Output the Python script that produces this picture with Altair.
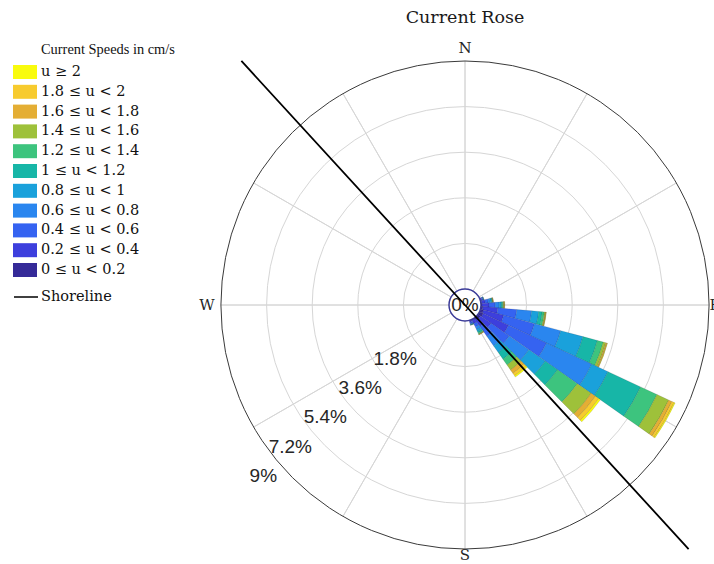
import math
import altair as alt
import pandas as pd

# Direction sectors: centre bearing in degrees clockwise from north, 10 degrees wide
directions = [70, 80, 90, 100, 110, 120, 130, 140, 150, 160]
sector_width = 10

# Share of records (%) per speed class in each direction sector
pct_0_02 = [0.02, 0.03, 0.04, 0.08, 0.12, 0.16, 0.12, 0.08, 0.03, 0.02]
pct_02_04 = [0.05, 0.14, 0.28, 0.59, 0.83, 1.10, 0.51, 0.32, 0.15, 0.06]
pct_04_06 = [0.04, 0.12, 0.24, 0.75, 1.26, 1.66, 0.87, 0.47, 0.14, 0.05]
pct_06_08 = [0.02, 0.08, 0.16, 0.59, 1.07, 1.97, 0.95, 0.47, 0.12, 0.03]
pct_08_10 = [0.01, 0.05, 0.08, 0.28, 0.91, 0.71, 0.79, 0.32, 0.08, 0.02]
pct_10_12 = [0.01, 0.03, 0.04, 0.14, 0.59, 1.42, 0.59, 0.32, 0.06, 0.01]
pct_12_14 = [0.00, 0.02, 0.04, 0.08, 0.24, 0.71, 0.95, 0.28, 0.05, 0.01]
pct_14_16 = [0.00, 0.01, 0.02, 0.04, 0.10, 0.51, 0.67, 0.24, 0.02, 0.00]
pct_16_18 = [0.00, 0.01, 0.02, 0.02, 0.04, 0.14, 0.20, 0.16, 0.01, 0.00]
pct_18_20 = [0.00, 0.01, 0.01, 0.01, 0.02, 0.10, 0.16, 0.12, 0.01, 0.00]
pct_20_up = [0.00, 0.00, 0.01, 0.01, 0.01, 0.04, 0.08, 0.06, 0.00, 0.00]

# Speed classes, slowest first, and their colours
speed_classes = [
    "0 ≤ u < 0.2", "0.2 ≤ u < 0.4", "0.4 ≤ u < 0.6", "0.6 ≤ u < 0.8",
    "0.8 ≤ u < 1", "1 ≤ u < 1.2", "1.2 ≤ u < 1.4", "1.4 ≤ u < 1.6",
    "1.6 ≤ u < 1.8", "1.8 ≤ u < 2", "u ≥ 2",
]
speed_colors = [
    "#352A98", "#3D3FDD", "#3563F1", "#2A86EF", "#1AA1DB", "#17B6A7",
    "#3DC47E", "#9EC13A", "#E4AE34", "#F7CB2E", "#F9FB0E",
]
speed_series = [pct_0_02, pct_02_04, pct_04_06, pct_06_08, pct_08_10, pct_10_12,
                pct_12_14, pct_14_16, pct_16_18, pct_18_20, pct_20_up]

# Radial grid rings and their labels
ring_values = [1.8, 3.6, 5.4, 7.2, 9]
ring_labels = ["1.8%", "3.6%", "5.4%", "7.2%", "9%"]

# Compass labels
compass_labels = ["N", "E", "S", "W"]
compass_bearings = [0, 90, 180, 270]

# Shoreline orientation (degrees clockwise from north)
shoreline_bearing = 137.5

# ---- tables ----
rows = []
for j, d in enumerate(directions):
    cum = 0.0
    for k, series in enumerate(speed_series):
        v = series[j]
        if v > 0:
            rows.append({"b0": d - sector_width / 2, "b1": d + sector_width / 2,
                         "r0": cum, "r1": cum + v, "speed": speed_classes[k]})
        cum += v
bars = pd.DataFrame(rows)

rings = pd.DataFrame({"ring": ring_values, "label": ring_labels})
spokes = pd.DataFrame({"a": list(range(0, 360, 30)), "r_in": 0.0, "r_out": max(ring_values)})
shore = pd.DataFrame({"b": [shoreline_bearing, (shoreline_bearing + 180) % 360],
                      "name": "Shoreline"})
origin = pd.DataFrame({"z": [0.0], "label": ["0%"]})

CX, CY = 465, 305
cx = alt.value(CX)
cy = alt.value(CY)
theta_scale = alt.Scale(domain=[0, 360], range=[0, 2 * math.pi])
r_scale = alt.Scale(type="linear", domain=[0, 9], range=[16, 244])

serif = "DejaVu Serif"
sans = "Liberation Sans"
TWO_PI = 2 * math.pi


def rad(field):
    return alt.Radius(field, scale=r_scale, stack=None)


inner_rings = alt.Chart(rings).transform_filter(alt.datum.ring < 9).mark_arc(
    filled=False, stroke="#D6D6D6", strokeWidth=1, theta=0, theta2=TWO_PI
).encode(radius=rad("ring:Q"), radius2=alt.value(0), x=cx, y=cy)

spoke_lines = alt.Chart(spokes).mark_arc(
    filled=False, stroke="#D6D6D6", strokeWidth=1
).encode(
    theta=alt.Theta("a:Q", scale=theta_scale, stack=None),
    theta2=alt.Theta2("a:Q"),
    radius=rad("r_out:Q"),
    radius2=alt.Radius2("r_in:Q"),
    x=cx, y=cy,
)

outer_ring = alt.Chart(rings).transform_filter(alt.datum.ring >= 9).mark_arc(
    filled=False, stroke="#3A3A3A", strokeWidth=1, theta=0, theta2=TWO_PI
).encode(radius=rad("ring:Q"), radius2=alt.value(0), x=cx, y=cy)

legend_order = speed_classes[::-1]
legend_colors = speed_colors[::-1]

sectors = alt.Chart(bars).mark_arc(
    stroke="#000000", strokeOpacity=0.2, strokeWidth=0.6
).encode(
    theta=alt.Theta("b0:Q", scale=theta_scale, stack=None),
    theta2=alt.Theta2("b1:Q"),
    radius=rad("r1:Q"),
    radius2=alt.Radius2("r0:Q"),
    fill=alt.Fill(
        "speed:N",
        scale=alt.Scale(domain=legend_order, range=legend_colors),
        legend=alt.Legend(
            orient="none", legendX=15, legendY=62, title=None,
            symbolType="M-1.2,-0.7H1.2V0.7H-1.2Z", symbolSize=400,
            symbolStrokeWidth=0, symbolOpacity=1,
            labelFont=serif, labelFontSize=14.5, labelColor="#111111",
            labelOffset=6, rowPadding=2.8, padding=0,
        ),
    ),
    x=cx, y=cy,
)

origin_circle = alt.Chart(origin).mark_arc(
    fill="white", stroke="#3B3B98", strokeWidth=1.5, theta=0, theta2=TWO_PI
).encode(radius=rad("z:Q"), radius2=alt.value(0), x=cx, y=cy)

origin_text = alt.Chart(origin).mark_text(
    font=sans, fontSize=19, color="#262626", align="center", baseline="middle"
).encode(text="label:N", x=cx, y=cy)

shoreline = alt.Chart(shore).mark_arc(filled=False, strokeWidth=1.8).encode(
    theta=alt.Theta("b:Q", scale=theta_scale, stack=None),
    theta2=alt.Theta2("b:Q"),
    radius=alt.value(331),
    radius2=alt.value(0),
    stroke=alt.Stroke(
        "name:N",
        scale=alt.Scale(domain=["Shoreline"], range=["#000000"]),
        legend=alt.Legend(
            orient="none", legendX=13, legendY=284, title=None,
            symbolType="stroke", symbolSize=576, symbolStrokeWidth=1.5,
            labelFont=serif, labelFontSize=14.5, labelColor="#111111",
            labelOffset=2, padding=0,
        ),
    ),
    x=cx, y=cy,
)

# Ring labels: right-aligned just below where each ring crosses the 230° bearing
ring_text = alt.Chart(rings).mark_text(
    font=sans, fontSize=19, color="#262626", align="right", baseline="middle",
    theta=math.radians(230), dx=-1, dy=14,
).encode(radius=rad("ring:Q"), text="label:N", x=cx, y=cy)

# Compass labels sit just outside the outer ring
compass_radius = {"N": 257, "E": 250, "S": 250, "W": 258}
compass_layers = []
for lab, brg in zip(compass_labels, compass_bearings):
    compass_layers.append(
        alt.Chart(pd.DataFrame({"t": [lab]})).mark_text(
            font=serif, fontSize=15, color="#262626", align="center",
            baseline="middle", theta=math.radians(brg), radius=compass_radius[lab],
        ).encode(text="t:N", x=cx, y=cy)
    )

title = alt.Chart(pd.DataFrame({"t": ["Current Rose"]})).mark_text(
    font=serif, fontSize=17.5, color="#1A1A1A", align="center", baseline="middle"
).encode(text="t:N", x=alt.value(465), y=alt.value(18))

legend_title = alt.Chart(pd.DataFrame({"t": ["Current Speeds in cm/s"]})).mark_text(
    font="Liberation Serif", fontSize=14.4, color="#111111", align="left",
    baseline="middle"
).encode(text="t:N", x=alt.value(41), y=alt.value(50))

chart = alt.layer(
    inner_rings, spoke_lines, outer_ring, sectors, origin_circle, origin_text,
    shoreline, ring_text, *compass_layers, title, legend_title,
).properties(
    width=714, height=564, autosize=alt.AutoSizeParams(type="none"), padding=0
).configure_view(strokeWidth=0)

chart.save("out.html", embed_options={"renderer": "svg", "actions": False})
